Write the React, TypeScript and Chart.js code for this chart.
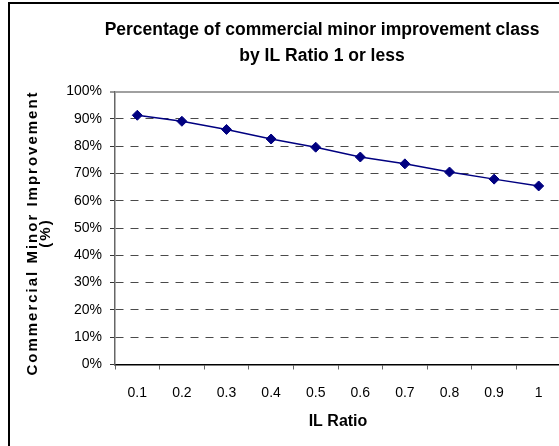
import React, { useEffect, useRef } from "react";
import { Chart, registerables } from "chart.js";

Chart.register(...registerables);

const categories = ["0.1", "0.2", "0.3", "0.4", "0.5", "0.6", "0.7", "0.8", "0.9", "1"];
const values = [91.3, 89.1, 86.1, 82.6, 79.6, 76.0, 73.5, 70.5, 67.9, 65.4];
const yMin = 0;
const yMax = 100;
const yStep = 10;
const titleLines = ["Percentage of commercial minor improvement class", "by IL Ratio 1 or less"];
const xTitle = "IL Ratio";
const yTitleLines = ["Commercial Minor Improvement", "(%)"];

const FONT = "'Liberation Sans', Arial, Helvetica, sans-serif";

const textPlugin = {
  id: "customTitles",
  afterDraw(chart: any) {
    const { ctx, chartArea } = chart;
    // main title
    ctx.save();
    ctx.font = `bold 17.5px ${FONT}`;
    ctx.textAlign = "center";
    ctx.textBaseline = "middle";
    ctx.fillStyle = "#000";
    ctx.fillText(titleLines[0], 322, 30);
    ctx.fillText(titleLines[1], 322, 56);
    ctx.restore();
    // y axis title
    const cy = (chartArea.top + chartArea.bottom) / 2 + 5;
    ctx.save();
    ctx.translate(0, cy);
    ctx.rotate(-Math.PI / 2);
    ctx.font = `bold 15px ${FONT}`;
    try { (ctx as any).letterSpacing = "2px"; } catch (e) {}
    ctx.textAlign = "center";
    ctx.textBaseline = "middle";
    ctx.fillStyle = "#000";
    ctx.fillText(yTitleLines[0], 0, 33);
    ctx.fillText(yTitleLines[1], 0, 46);
    ctx.restore();
  },
};

export default function App() {
  const ref = useRef<HTMLCanvasElement | null>(null);

  useEffect(() => {
    if (!ref.current) return;
    const chart = new Chart(ref.current, {
      type: "line",
      data: {
        labels: categories,
        datasets: [
          {
            data: values,
            borderColor: "#000080",
            backgroundColor: "#000080",
            borderWidth: 1.5,
            pointStyle: "rectRot",
            pointRadius: 5,
            pointBorderWidth: 1,
            pointBorderColor: "#000080",
            pointBackgroundColor: "#000080",
            tension: 0,
            fill: false,
          },
        ],
      },
      options: {
        responsive: false,
        animation: false,
        devicePixelRatio: 1,
        layout: { padding: { top: 91.5, left: 0, right: 83, bottom: 0 } },
        plugins: {
          legend: { display: false },
          tooltip: { enabled: false },
          title: { display: false },
        },
        scales: {
          x: {
            type: "category",
            offset: true,
            grid: {
              display: true,
              offset: true,
              drawOnChartArea: false,
              drawTicks: true,
              tickLength: 5,
              tickColor: "#666",
              tickWidth: 1,
            },
            border: { display: true, color: "#000", width: 1.5 },
            ticks: {
              color: "#000",
              font: { family: FONT, size: 14 },
              padding: 15,
              maxRotation: 0,
              autoSkip: false,
            },
            title: {
              display: true,
              text: xTitle,
              color: "#000",
              font: { family: FONT, size: 16, weight: "bold", lineHeight: 1.2 },
              padding: { top: 0, bottom: 15 },
            },
            afterFit(scale: any) {
              scale.height = 81.5;
            },
          },
          y: {
            min: yMin,
            max: yMax,
            grid: {
              color: (ctx: any) => {
                const v = ctx.tick ? ctx.tick.value : null;
                if (v === yMax) return "#a0a0a0";
                if (v === yMin) return "rgba(0,0,0,0)";
                return "#4a4a4a";
              },
              lineWidth: (ctx: any) => (ctx.tick && ctx.tick.value === yMax ? 2 : 1),
              tickColor: "#333",
              tickLength: 5,
              tickWidth: 1,
              drawTicks: true,
            },
            border: {
              display: true,
              color: "#666",
              width: 1.5,
              dash: (ctx: any) => (ctx.tick && ctx.tick.value !== yMax ? [8, 7] : []),
            },
            ticks: {
              stepSize: yStep,
              color: "#000",
              font: { family: FONT, size: 14 },
              padding: 8,
              callback: (v: any) => `${v}%`,
            },
            afterFit(scale: any) {
              scale.width = 115;
            },
          },
        },
      },
      plugins: [textPlugin],
    });
    return () => chart.destroy();
  }, []);

  return (
    <div
      style={{
        position: "fixed",
        left: 0,
        top: 0,
        width: 559,
        height: 446,
        overflow: "hidden",
        background: "#fff",
      }}
    >
      <canvas ref={ref} width={644} height={446} style={{ position: "absolute", left: 0, top: 0, width: 644, height: 446 }} />
      <div
        style={{
          position: "absolute",
          left: 8,
          top: 2,
          width: 700,
          height: 700,
          border: "2px solid #000",
          boxSizing: "border-box",
          pointerEvents: "none",
        }}
      />
    </div>
  );
}
